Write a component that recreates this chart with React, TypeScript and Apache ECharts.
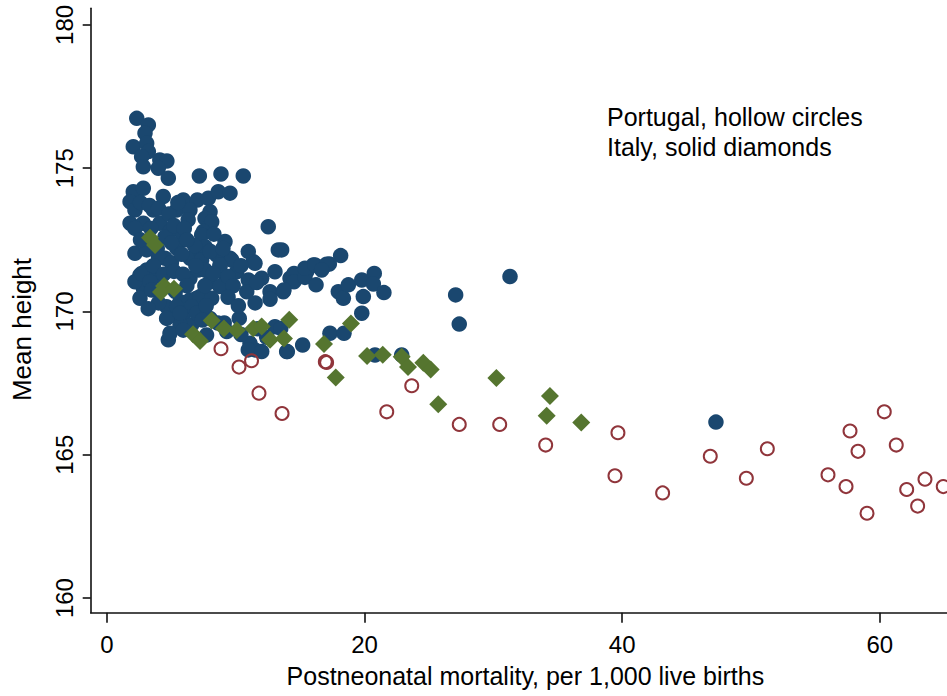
import React, { useEffect, useRef } from "react";
import * as echarts from "echarts";

const xTicks = [0, 20, 40, 60];
const yTicks = [160, 165, 170, 175, 180];
const xTitle = "Postneonatal mortality, per 1,000 live births";
const yTitle = "Mean height";
const noteLines = ["Portugal, hollow circles", "Italy, solid diamonds"];

// Other regions (solid navy circles)
const others: number[][] = [
  [2.31, 176.74], [3.21, 176.51], [2.95, 176.22], [2.04, 175.75], [3.08, 175.87], [3.21, 175.58],
  [2.69, 175.4], [4.1, 175.29], [4.65, 175.25], [2.82, 175.05], [3.98, 175.0], [4.76, 174.65],
  [7.17, 174.73], [8.85, 174.8], [10.58, 174.73],
  [2.04, 174.18], [2.82, 174.3], [1.79, 173.83], [4.37, 174.01], [5.92, 173.89], [7.01, 173.89],
  [7.87, 173.95], [8.64, 174.18], [9.55, 174.13],
  [2.17, 173.54], [3.6, 173.54], [5.41, 173.54], [6.44, 173.54], [8.0, 173.48], [7.61, 173.25], [8.13, 173.13],
  [1.79, 173.08], [2.82, 173.08], [4.11, 173.08], [12.52, 172.96],
  [2.17, 172.9], [4.89, 172.79], [5.92, 172.61], [7.48, 172.79], [7.35, 172.67], [9.16, 172.44],
  [2.17, 172.03], [3.08, 172.15], [4.5, 171.86], [5.41, 172.21], [6.44, 171.86], [7.35, 171.97],
  [7.61, 172.26], [13.3, 172.15], [10.97, 172.09], [9.55, 171.86], [8.51, 171.97], [11.36, 171.74],
  [2.56, 171.27], [3.08, 171.45], [3.73, 171.22], [2.82, 170.81], [2.56, 170.46], [6.44, 171.16],
  [7.09, 171.45], [6.44, 170.4], [5.67, 170.34], [6.96, 170.46],
  [7.35, 171.8], [7.61, 171.45], [8.77, 171.56], [10.07, 171.39], [13.04, 171.39], [14.6, 171.27],
  [15.5, 171.39], [9.29, 171.16], [10.97, 171.1], [12.01, 171.16], [14.21, 171.16], [14.98, 171.22],
  [8.0, 171.04], [8.77, 170.87], [10.85, 170.69], [12.66, 170.69], [13.69, 170.69], [7.22, 170.52],
  [8.13, 170.46], [12.66, 170.43],
  [4.76, 169.82], [5.92, 169.88], [6.57, 169.53], [5.67, 169.53], [4.76, 169.01], [7.73, 169.18],
  [8.0, 169.76], [10.27, 169.76], [13.04, 169.47], [11.1, 168.89], [11.49, 168.66], [10.97, 168.66],
  [12.01, 168.6], [13.95, 168.6], [15.19, 168.83], [9.1, 169.6],
  [2.17, 171.04], [2.69, 171.33], [3.34, 171.04], [3.47, 170.75], [4.63, 170.17], [5.41, 170.17],
  [6.57, 170.17], [4.63, 169.76], [5.67, 169.94], [6.96, 169.94], [4.89, 169.24], [5.92, 169.35],
  [9.68, 171.8], [8.77, 171.62], [11.62, 171.01], [9.41, 171.22], [8.25, 171.33], [11.49, 171.68],
  [14.47, 171.22],
  [2.6, 173.8], [3.3, 173.7], [4.0, 173.6], [4.8, 173.4], [5.5, 173.8], [6.3, 173.2],
  [3.4, 172.9], [4.5, 172.6], [5.2, 173.0], [6.0, 172.9], [6.8, 172.3], [3.9, 172.2],
  [2.6, 172.5], [5.0, 172.4], [6.2, 172.5], [8.3, 172.7],
  [4.0, 171.9], [5.0, 171.7], [5.8, 172.0], [6.9, 171.6], [8.0, 172.1], [9.0, 172.2],
  [3.6, 171.6], [4.4, 171.3], [5.2, 171.4], [5.9, 171.3], [6.2, 170.9], [7.6, 170.9], [9.8, 170.9], [10.4, 171.6],
  [4.0, 170.3], [3.2, 170.1], [5.3, 170.7], [7.7, 170.2], [9.4, 170.5], [10.2, 170.2], [11.5, 170.3],
  [8.6, 169.6], [9.3, 169.3], [11.7, 169.4], [12.4, 169.1], [10.4, 169.2], [7.4, 169.7],
  [13.56, 172.15], [18.14, 171.95], [14.52, 171.33], [14.52, 171.04], [15.37, 171.19], [16.02, 171.62],
  [16.79, 171.56], [17.26, 171.66], [16.23, 170.93], [13.74, 170.75], [17.96, 170.69], [18.35, 170.46],
  [18.74, 170.93], [19.78, 171.1], [20.75, 171.33], [20.68, 170.96], [19.9, 170.52], [21.5, 170.66],
  [19.78, 169.94], [17.31, 169.24], [18.4, 169.24], [14.0, 168.6], [13.49, 169.41], [20.81, 168.48],
  [22.88, 168.48], [27.07, 170.58], [27.35, 169.56], [31.29, 171.22], [47.28, 166.14],
  [15.37, 171.51], [16.15, 171.62], [17.05, 171.65], [16.67, 171.45],
];

// Portugal (hollow circles)
const portugal: number[][] = [
  [8.85, 168.7], [10.25, 168.06], [11.22, 168.28], [11.8, 167.15], [13.59, 166.44], [16.95, 168.25],
  [17.05, 168.22], [21.72, 166.5], [23.66, 167.41], [27.35, 166.06], [30.49, 166.06], [34.06, 165.34],
  [39.67, 165.77], [39.44, 164.27], [43.14, 163.67], [46.84, 164.95], [49.64, 164.18], [51.27, 165.21],
  [55.98, 164.3], [57.38, 163.89], [57.69, 165.83], [58.31, 165.12], [59.01, 162.96], [60.35, 166.5],
  [61.28, 165.34], [62.09, 163.79], [62.94, 163.21], [63.51, 164.15], [64.93, 163.89],
];

// Italy (solid diamonds)
const italy: number[][] = [
  [3.34, 172.57], [3.73, 172.32], [4.43, 170.89], [5.2, 170.79], [4.19, 170.68], [6.68, 169.21],
  [7.22, 168.97], [8.13, 169.69], [9.08, 169.41], [10.07, 169.35], [11.36, 169.41], [12.01, 169.48],
  [14.15, 169.71], [12.66, 169.01], [13.74, 169.06], [16.85, 168.87], [18.94, 169.58], [17.76, 167.7],
  [20.19, 168.45], [21.41, 168.49], [22.88, 168.42], [23.37, 168.06], [24.56, 168.21], [25.13, 167.98],
  [25.72, 166.76], [30.23, 167.68], [34.39, 167.05], [34.14, 166.36], [36.82, 166.13],
];

const FONT = "'Liberation Sans', Arial, Helvetica, sans-serif";
const AXIS_COLOR = "#111";

export default function App() {
  const ref = useRef<HTMLDivElement>(null);
  useEffect(() => {
    const chart = echarts.init(ref.current!, null, { renderer: "svg" });
    chart.setOption({
      animation: false,
      backgroundColor: "#ffffff",
      textStyle: { fontFamily: FONT },
      grid: { left: 90.7, top: 8.3, right: 0, height: 604.4, containLabel: false },
      xAxis: {
        type: "value",
        min: -1.266,
        max: 65.22,
        axisLine: { show: true, onZero: false, lineStyle: { color: AXIS_COLOR, width: 1.6 } },
        axisTick: { show: true, customValues: xTicks, length: 10, lineStyle: { color: AXIS_COLOR, width: 1.6 } },
        axisLabel: { customValues: xTicks, fontSize: 24, color: "#000", margin: 20, fontFamily: FONT },
        splitLine: { show: false },
        name: xTitle,
        nameLocation: "middle",
        nameGap: 51,
        nameTextStyle: { fontSize: 25, color: "#000", fontFamily: FONT, padding: [0, 0, 0, 13] },
      },
      yAxis: {
        type: "value",
        min: 159.49,
        max: 180.58,
        axisLine: { show: true, onZero: false, lineStyle: { color: AXIS_COLOR, width: 1.6 } },
        axisTick: { show: true, customValues: yTicks, length: 8, lineStyle: { color: AXIS_COLOR, width: 1.6 } },
        axisLabel: { customValues: yTicks, rotate: 90, fontSize: 24, color: "#000", margin: 14, fontFamily: FONT },
        splitLine: { show: false },
      },
      graphic: [
        {
          type: "text",
          x: 22,
          y: 329.5,
          rotation: Math.PI / 2,
          style: { text: yTitle, fontSize: 26, fill: "#000", align: "center", verticalAlign: "middle", font: `26px ${FONT}` },
        },
        {
          type: "text",
          left: 607,
          top: 102,
          style: { text: noteLines.join("\n"), fontSize: 25, lineHeight: 30, fill: "#000", font: `25px ${FONT}` },
        },
      ],
      series: [
        {
          type: "scatter",
          data: others,
          symbol: "circle",
          symbolSize: 15.5,
          itemStyle: { color: "#1a476f", opacity: 1 },
          z: 2,
        },
        {
          type: "scatter",
          data: portugal,
          symbol: "circle",
          symbolSize: 13,
          itemStyle: { color: "rgba(255,255,255,0)", borderColor: "#90353b", borderWidth: 2, opacity: 1 },
          z: 3,
        },
        {
          type: "scatter",
          data: italy,
          symbol: "diamond",
          symbolSize: 18,
          itemStyle: { color: "#55752f", opacity: 1 },
          z: 4,
        },
      ],
    });
    return () => chart.dispose();
  }, []);
  return (
    <div
      ref={ref}
      style={{ position: "fixed", left: 0, top: 0, width: 947, height: 696, background: "#fff" }}
    />
  );
}
